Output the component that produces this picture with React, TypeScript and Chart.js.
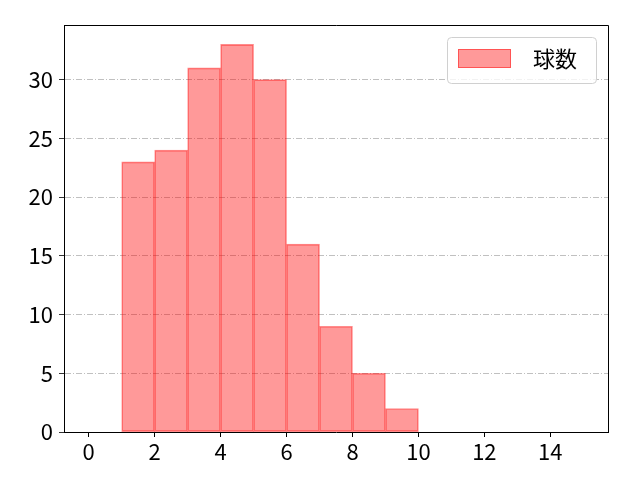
import React, { useEffect, useRef } from "react";
import { Chart, registerables } from "chart.js";

Chart.register(...registerables);

const binStarts = [0, 1, 2, 3, 4, 5, 6, 7, 8, 9, 10, 11, 12, 13, 14];
const counts = [0, 23, 24, 31, 33, 30, 16, 9, 5, 2, 0, 0, 0, 0, 0];
const xTicks = [0, 2, 4, 6, 8, 10, 12, 14];
const yTicks = [0, 5, 10, 15, 20, 25, 30];
const seriesLabel = "球数";

const FONT = '"Noto Sans CJK JP", "Noto Sans", sans-serif';

const framePlugin = {
  id: "frame",
  afterDatasetsDraw(chart: any) {
    const { ctx, chartArea } = chart;
    ctx.save();
    ctx.strokeStyle = "#000";
    ctx.lineWidth = 1;
    ctx.beginPath();
    ctx.moveTo(chartArea.left, chartArea.top + 0.5);
    ctx.lineTo(chartArea.right + 0.5, chartArea.top + 0.5);
    ctx.lineTo(chartArea.right + 0.5, chartArea.bottom);
    ctx.stroke();
    ctx.restore();
  },
  afterDraw(chart: any) {
    const { ctx } = chart;
    const ds = chart.data.datasets[0];
    ctx.save();
    const bx = 447.5, by = 37.5, bw = 149, bh = 46, r = 4;
    ctx.beginPath();
    ctx.moveTo(bx + r, by);
    ctx.lineTo(bx + bw - r, by);
    ctx.quadraticCurveTo(bx + bw, by, bx + bw, by + r);
    ctx.lineTo(bx + bw, by + bh - r);
    ctx.quadraticCurveTo(bx + bw, by + bh, bx + bw - r, by + bh);
    ctx.lineTo(bx + r, by + bh);
    ctx.quadraticCurveTo(bx, by + bh, bx, by + bh - r);
    ctx.lineTo(bx, by + r);
    ctx.quadraticCurveTo(bx, by, bx + r, by);
    ctx.closePath();
    ctx.fillStyle = "rgba(255,255,255,0.8)";
    ctx.fill();
    ctx.strokeStyle = "#d0d0d0";
    ctx.lineWidth = 1;
    ctx.stroke();
    ctx.fillStyle = ds.backgroundColor;
    ctx.fillRect(458, 49, 53, 19);
    ctx.strokeStyle = ds.borderColor;
    ctx.strokeRect(458.5, 49.5, 52, 18);
    ctx.fillStyle = "#000";
    ctx.font = `22px ${FONT}`;
    ctx.textBaseline = "middle";
    ctx.textAlign = "left";
    ctx.fillText(ds.label, 533, 59);
    ctx.restore();
  },
};

export default function App() {
  const ref = useRef<HTMLCanvasElement>(null);
  useEffect(() => {
    if (!ref.current) return;
    const chart = new Chart(ref.current, {
      type: "bar",
      data: {
        datasets: [
          {
            label: seriesLabel,
            data: binStarts.map((b, i) => ({ x: b + 0.5, y: counts[i] })),
            backgroundColor: "rgba(255,0,0,0.4)",
            borderColor: "rgba(255,0,0,0.45)",
            borderWidth: 1,
            borderSkipped: false,
            barPercentage: 1,
            categoryPercentage: 1,
          },
        ],
      },
      options: {
        responsive: false,
        animation: false,
        devicePixelRatio: 1,
        layout: { padding: { top: 25, right: 32, left: 0, bottom: 0 } },
        plugins: { legend: { display: false }, tooltip: { enabled: false } },
        scales: {
          x: {
            type: "linear",
            offset: false,
            min: -0.75,
            max: 15.75,
            afterBuildTicks: (s: any) => {
              s.ticks = xTicks.map((v) => ({ value: v }));
            },
            afterFit: (s: any) => {
              s.height = 48;
            },
            grid: {
              offset: false,
              drawOnChartArea: false,
              drawTicks: true,
              tickLength: 5,
              tickColor: "#000",
            },
            border: { display: true, color: "#000", width: 1 },
            ticks: {
              color: "#000",
              font: { family: FONT, size: 22 },
              padding: 1,
              maxRotation: 0,
              autoSkip: false,
            },
          },
          y: {
            min: 0,
            max: 34.65,
            afterBuildTicks: (s: any) => {
              s.ticks = yTicks.map((v) => ({ value: v }));
            },
            afterFit: (s: any) => {
              s.width = 64;
            },
            grid: {
              drawOnChartArea: true,
              drawTicks: true,
              tickLength: 5,
              tickColor: "#000",
              color: (c: any) => (c.tick && c.tick.value === 0 ? "rgba(0,0,0,0)" : "#b0b0b0"),
              lineWidth: 0.8,
            },
            border: { display: true, color: "#000", width: 1, dash: [6, 2, 1, 2] },
            ticks: {
              color: "#000",
              font: { family: FONT, size: 22 },
              padding: 6,
              autoSkip: false,
            },
          },
        },
      },
      plugins: [framePlugin],
    } as any);
    return () => chart.destroy();
  }, []);
  return (
    <div style={{ position: "absolute", left: 0, top: 0, width: 640, height: 480, background: "#fff" }}>
      <canvas ref={ref} width={640} height={480} />
    </div>
  );
}
